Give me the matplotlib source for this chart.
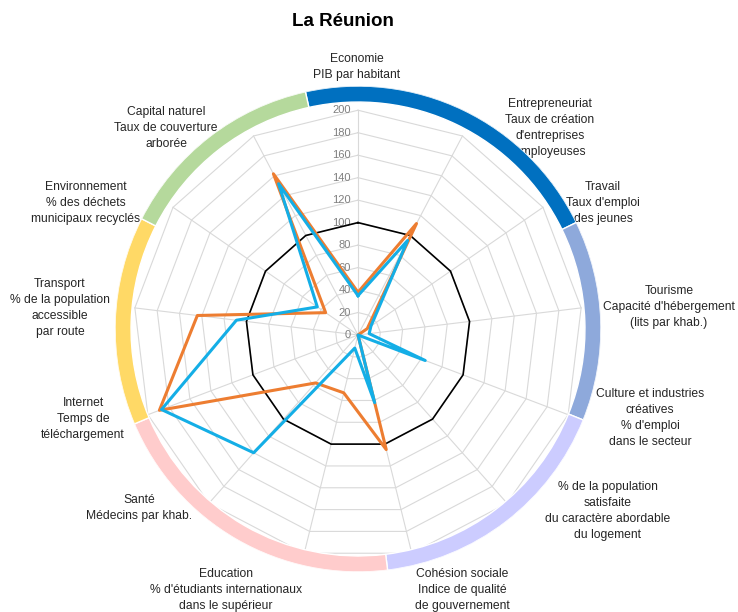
import numpy as np
import matplotlib.pyplot as plt
from matplotlib import transforms

# axes du radar (sens horaire depuis le haut)
axes_labels = [
    "Economie\nPIB par habitant",
    "Entrepreneuriat\nTaux de création\nd'entreprises\nemployeuses",
    "Travail\nTaux d'emploi\ndes jeunes",
    "Tourisme\nCapacité d'hébergement\n(lits par khab.)",
    "Culture et industries\ncréatives\n% d'emploi\ndans le secteur",
    "% de la population\nsatisfaite\ndu caractère abordable\ndu logement",
    "Cohésion sociale\nIndice de qualité\nde gouvernement",
    "Education\n% d'étudiants internationaux\ndans le supérieur",
    "Santé\nMédecins par khab.",
    "Internet\nTemps de\ntéléchargement",
    "Transport\n% de la population\naccessible\npar route",
    "Environnement\n% des déchets\nmunicipaux recyclés",
    "Capital naturel\nTaux de couverture\narborée",
]
serie_orange = [38, 112, 10, 0, 0, 0, 105, 53, 57, 189, 144, 35, 162]
serie_bleue = [35, 95, 14, 10, 64, 0, 62, 12, 140, 187, 109, 44, 152]
reference = [100] * 13
ticks = list(range(0, 201, 20))

# anneau coloré : début / fin de chaque segment (degrés, sens horaire depuis le haut)
ring_start = [-12.5, 64, 112, 173, 247, 297]
ring_end = [64, 112, 173, 247, 297, 347.5]
ring_colors = ["#0070C0", "#8EA9DB", "#CCCCFF", "#FFCCCC", "#FFD966", "#B5D99C"]

# position des étiquettes (pixels, centre du bloc)
label_pos = [(357, 67), (550, 128), (603, 203), (669, 307), (650, 418),
             (608, 511), (462, 590), (226, 590), (139, 508), (83, 419),
             (60, 308), (86, 203), (166, 128)]

W, H = 738, 612
plt.rcParams['font.family'] = ['Liberation Sans', 'DejaVu Sans']

fig = plt.figure(figsize=(W / 100, H / 100), dpi=100)


def polar_axes(cx, cy, R, z):
    a = fig.add_axes([(cx - R) / W, (H - cy - R) / H, 2 * R / W, 2 * R / H],
                     projection='polar', zorder=z)
    a.set_theta_zero_location('N')
    a.set_theta_direction(-1)
    a.grid(False)
    a.set_xticks([])
    a.set_yticks([])
    a.spines['polar'].set_visible(False)
    a.patch.set_alpha(0)
    return a


ax = polar_axes(358, 335, 245, 1)
ax.set_ylim(0, 218)

n = len(axes_labels)
angles = np.arange(n) * 2 * np.pi / n
closed = np.append(angles, angles[0])

# grille polygonale
for t in ticks[1:]:
    ax.plot(closed, [t] * (n + 1), color="#D9D9D9", lw=0.8, zorder=1)
for a in angles:
    ax.plot([a, a], [0, 200], color="#D9D9D9", lw=0.8, zorder=1)

off = transforms.offset_copy(ax.transData, fig=fig, x=-5, y=0, units='points')
for t in ticks:
    ax.text(0, t, str(t), transform=off, ha='right', va='center', fontsize=8,
            color="#7F7F7F", zorder=2)

ax.plot(closed, reference + reference[:1], color="black", lw=1.2, zorder=3)
ax.plot(closed, serie_orange + serie_orange[:1], color="#ED7D31", lw=2.2, zorder=4)
ax.plot(closed, serie_bleue + serie_bleue[:1], color="#14AEE6", lw=2.2, zorder=5)

for lab, (x, y) in zip(axes_labels, label_pos):
    ax.text(x / W, 1 - y / H, lab, transform=fig.transFigure, ha='center', va='center',
            multialignment='center', fontsize=8.7, linespacing=1.42, color="#262626",
            zorder=0.5, clip_on=False)

# anneau extérieur (légèrement décalé vers le haut comme dans l'original)
ax_ring = polar_axes(358, 329, 243, 2)
ax_ring.set_ylim(0, 1)
for s, e, c in zip(ring_start, ring_end, ring_colors):
    mid = np.deg2rad((s + e) / 2)
    ax_ring.bar(mid, 0.066, width=np.deg2rad(e - s), bottom=0.934, color=c,
                edgecolor="white", linewidth=1)

fig.text(343 / W, 1 - 21 / H, "La Réunion", ha='center', va='center', fontsize=13.5,
         fontweight='bold')

fig.savefig("out.png", dpi=100)
